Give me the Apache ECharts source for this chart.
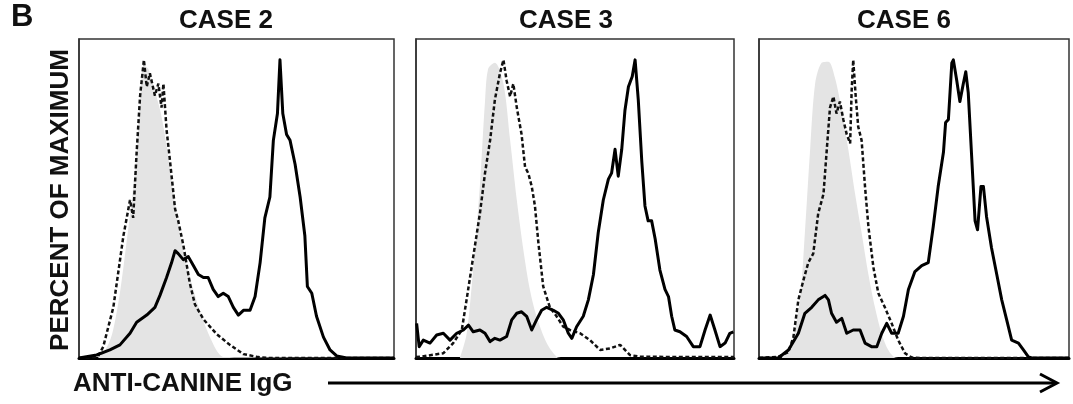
<!DOCTYPE html>
<html>
<head>
<meta charset="utf-8">
<script src="https://cdn.jsdelivr.net/npm/echarts@6/dist/echarts.min.js"></script>
<style>
    html, body { margin: 0; padding: 0; background: #fff; }
    #chart { width: 1073px; height: 404px; }
</style>
</head>
<body>
<div id="chart"></div>
<script>
    // panel titles
    const caseNames = ['CASE 2', 'CASE 3', 'CASE 6'];

    // [x position in % of panel width, percent of maximum]
    const case2Control = [[6, 0], [8, 2], [10.5, 8], [13, 22], [15, 38], [17, 55], [18.5, 72], [19.5, 88], [20.5, 98], [22, 97], [24, 90], [26, 82], [28, 70], [30, 55], [32, 42], [34, 32], [36, 24], [38, 17], [40, 11], [42, 6], [44, 2], [46, 0.3], [100, 0]];
    const case2Dashed = [[0, 0], [6, 0.5], [7.7, 3.8], [10.9, 17], [14.1, 41], [16.2, 53], [17.2, 47], [18.3, 69], [19.4, 88], [20.6, 100], [21.5, 91], [22.5, 95.5], [24.1, 88], [25.2, 92], [26.2, 84], [26.8, 92], [27.8, 76.5], [28.9, 66], [30.5, 50], [31.5, 46], [33.1, 38], [35.2, 25], [36.8, 18], [39.5, 13], [43.7, 8], [47.9, 4.4], [52.2, 1.3], [56.4, 0.4], [60, 0], [100, 0]];
    const case2Solid = [[0, 0], [5.6, 1], [9.8, 2.7], [13, 4.4], [16.2, 8.3], [18.3, 12], [21.5, 14.4], [24.1, 17], [25.7, 21], [27.8, 27], [29.4, 32], [30.5, 36], [31.5, 35], [33.1, 33], [34.7, 34], [36.3, 31], [37.9, 28], [39.5, 27], [41, 27], [42.6, 23], [44.2, 20.6], [45.8, 21.7], [47.4, 20.6], [49, 17], [50.6, 14.4], [52.2, 16], [54.3, 16], [55.9, 20.6], [57.5, 32], [59, 47], [60.6, 54], [61.7, 73], [63, 82], [63.8, 100], [64.7, 82], [65.9, 75], [67, 73], [68.6, 65], [70.2, 54], [71.7, 41], [72.5, 24], [73.9, 21.7], [75.4, 14], [77.6, 7], [79.7, 2.7], [81.8, 0.7], [85, 0], [100, 0]];

    const case3Control = [[13.8, 0], [15.9, 8], [18, 30], [20.1, 58], [21.7, 86], [22.7, 97], [24.8, 99], [27.5, 92], [29.6, 73], [31.7, 53], [33.8, 36], [35.8, 23], [37.9, 14], [41.1, 5], [44.2, 0.4], [46, 0], [100, 0]];
    const case3Dashed = [[0, 0.3], [1.3, 0.4], [8.6, 1.6], [11.7, 5], [14.4, 9.4], [15.9, 19.5], [18, 34], [20.1, 48.5], [21.7, 62], [23.3, 73], [24.8, 86.6], [26.4, 95.5], [27.5, 100], [28.5, 93], [29.6, 87.7], [30.6, 92], [31.7, 84], [33.2, 75], [34.3, 64], [35.3, 62], [36.4, 57.5], [37.4, 51], [38.5, 38.5], [40, 24], [42.1, 17], [44.2, 14], [46.3, 10.5], [48.4, 9.4], [51.6, 8.3], [54.7, 6], [57.9, 2.7], [61, 3.2], [64.2, 4.4], [67.3, 1], [70.4, 0.4], [100, 0.3]];
    const case3Solid = [[0.2, 11.6], [1, 3.8], [2.3, 6], [4.4, 5], [6.5, 7.7], [8.6, 8.3], [10.7, 6], [12.8, 8.3], [14.9, 9.4], [16.5, 11], [18, 8.8], [20.1, 9.4], [21.7, 8.3], [23.3, 5.5], [24.8, 6.6], [26.4, 6], [28.5, 7.2], [30.1, 12.8], [31.7, 15], [33.2, 15.5], [34.8, 14], [36.4, 9.4], [37.9, 12.8], [39.5, 16], [41.1, 17], [43.2, 16], [44.8, 15], [46.3, 12.8], [47.9, 8.3], [49, 6.6], [50.5, 10.5], [52.6, 14], [54.2, 19.5], [55.8, 28], [57.3, 42], [58.9, 53], [60.5, 60], [61.5, 62], [62.6, 70], [63.6, 61], [64.7, 70], [65.7, 83], [66.8, 91], [68, 94.4], [68.9, 100], [69.9, 86.6], [71, 66], [72, 51], [73, 46], [74.1, 46], [75.2, 40], [76.7, 29.5], [78.3, 23], [79.4, 20.6], [80.4, 14], [81.4, 9.4], [83, 8.8], [85.1, 7.2], [87.2, 3.8], [89.3, 3.8], [90.9, 9.4], [92.5, 14.4], [94, 9.4], [95.6, 3.8], [97.2, 5], [98.7, 8.3], [99.8, 8.8]];

    const case6Control = [[7.3, 0], [10.5, 5], [13.2, 19.5], [14.8, 42], [16.5, 70], [18.1, 92], [20.2, 99], [22.4, 99.4], [24.5, 94], [26.7, 83], [28.8, 70], [31, 55], [33.1, 42], [35.3, 28], [37.4, 17], [39.6, 8], [41.7, 2.7], [43.9, 0.2], [46, 0], [100, 0]];
    const case6Dashed = [[0, 0], [6.2, 0.4], [9.5, 2], [11.1, 7], [12.7, 19.5], [14.3, 26], [15.9, 32], [17.5, 35], [19.1, 48.5], [20.8, 55], [21.8, 69], [22.9, 84], [24, 87.7], [25, 82], [26.1, 86], [27.2, 80], [28.3, 75], [29.4, 72], [29.9, 90], [30.4, 100], [31.2, 87.7], [32, 77.6], [33.1, 73], [34.2, 57.5], [35.3, 44], [36.9, 30.4], [38.5, 21.7], [40.6, 17], [42.8, 11.6], [44.9, 6], [47.1, 1.6], [49.2, 0.2], [52, 0], [100, 0]];
    const case6Solid = [[0, 0], [6.2, 0], [9.5, 2.7], [12.7, 8.3], [14.8, 15], [17, 17], [19.1, 19.5], [21.3, 21], [22.4, 19.5], [23.4, 15], [25, 12], [26.7, 13.3], [28.3, 8.3], [30.4, 9.4], [32.6, 9.4], [34.2, 5], [36.3, 3.8], [38, 3.8], [39.6, 8.3], [41.2, 11.6], [42.8, 8.3], [44.9, 8.3], [46.6, 14], [48.2, 23], [50.3, 29], [52.5, 31], [54.6, 32], [56.2, 44], [57.8, 57.5], [59.5, 69], [60.2, 79], [61.1, 80], [62.2, 99], [62.7, 100], [63.8, 93], [64.8, 86], [65.9, 92], [66.7, 96], [67.5, 89], [68.6, 67.6], [69.7, 46], [70.5, 43], [71.6, 57.5], [72.4, 57.5], [73.4, 47.4], [75, 37], [76.7, 28], [78.3, 19.5], [79.9, 12.8], [81.5, 6], [83.7, 5], [85.3, 2.7], [86.9, 0.4], [88, 0], [100, 0]];

    const panels = [
        { control: case2Control, dashed: case2Dashed, solid: case2Solid },
        { control: case3Control, dashed: case3Dashed, solid: case3Solid },
        { control: case6Control, dashed: case6Dashed, solid: case6Solid }
    ];

    const boxes = [
        { left: 79, top: 39, width: 315, height: 319, titleX: 226 },
        { left: 416, top: 39, width: 318, height: 319, titleX: 566 },
        { left: 759, top: 39, width: 310, height: 319, titleX: 904 }
    ];

    const font = 'bold 26px "Liberation Sans", Arial, sans-serif';

    const myChart = echarts.init(document.getElementById('chart'), null, { renderer: 'canvas' });

    const grid = [], xAxis = [], yAxis = [], series = [], graphic = [];

    boxes.forEach((b, i) => {
        grid.push({
            left: b.left, top: b.top, width: b.width, height: b.height,
            show: true, borderColor: '#333', borderWidth: 1.5, backgroundColor: '#fff'
        });
        xAxis.push({
            gridIndex: i, type: 'value', min: 0, max: 100,
            axisLine: { show: true, onZero: false, lineStyle: { color: '#000', width: 3 } },
            axisTick: { show: false }, axisLabel: { show: false }, splitLine: { show: false }
        });
        yAxis.push({
            gridIndex: i, type: 'value', min: 0, max: 107,
            axisLine: { show: true, lineStyle: { color: '#333', width: 1.5 } },
            axisTick: { show: false }, axisLabel: { show: false }, splitLine: { show: false }
        });

        const p = panels[i];
        series.push({
            type: 'line', xAxisIndex: i, yAxisIndex: i, data: p.control,
            symbol: 'none', smooth: 0.3, silent: true,
            lineStyle: { width: 0 },
            areaStyle: { color: '#e4e4e4', opacity: 1 }
        });
        series.push({
            type: 'line', xAxisIndex: i, yAxisIndex: i, data: p.dashed,
            symbol: 'none', silent: true,
            lineStyle: { color: '#111', width: 2.5, type: [4, 2.5] }
        });
        series.push({
            type: 'line', xAxisIndex: i, yAxisIndex: i, data: p.solid,
            symbol: 'none', silent: true,
            lineStyle: { color: '#000', width: 3, join: 'round' }
        });

        graphic.push({
            type: 'text', x: b.titleX, y: 21,
            style: { text: caseNames[i], font: font, fill: '#111', textAlign: 'center', textVerticalAlign: 'middle' }
        });
    });

    // panel letter, axis titles and arrow
    graphic.push({
        type: 'text', x: 11, y: 17,
        style: { text: 'B', font: 'bold 31px "Liberation Sans", Arial, sans-serif', fill: '#111', textVerticalAlign: 'middle' }
    });
    graphic.push({
        type: 'text', x: 61, y: 200, rotation: Math.PI / 2,
        style: { text: 'PERCENT OF MAXIMUM', font: font, fill: '#111', textAlign: 'center', textVerticalAlign: 'middle' }
    });
    graphic.push({
        type: 'text', x: 73, y: 384,
        style: { text: 'ANTI-CANINE IgG', font: font, fill: '#111', textVerticalAlign: 'middle' }
    });
    graphic.push({
        type: 'line', shape: { x1: 328, y1: 383, x2: 1056, y2: 383 },
        style: { stroke: '#000', lineWidth: 3 }
    });
    graphic.push({
        type: 'polyline', shape: { points: [[1040, 374], [1057, 383], [1040, 392]] },
        style: { stroke: '#000', lineWidth: 3, fill: null }
    });

    myChart.setOption({
        animation: false,
        grid: grid,
        xAxis: xAxis,
        yAxis: yAxis,
        series: series,
        graphic: graphic
    });
</script>
</body>
</html>
